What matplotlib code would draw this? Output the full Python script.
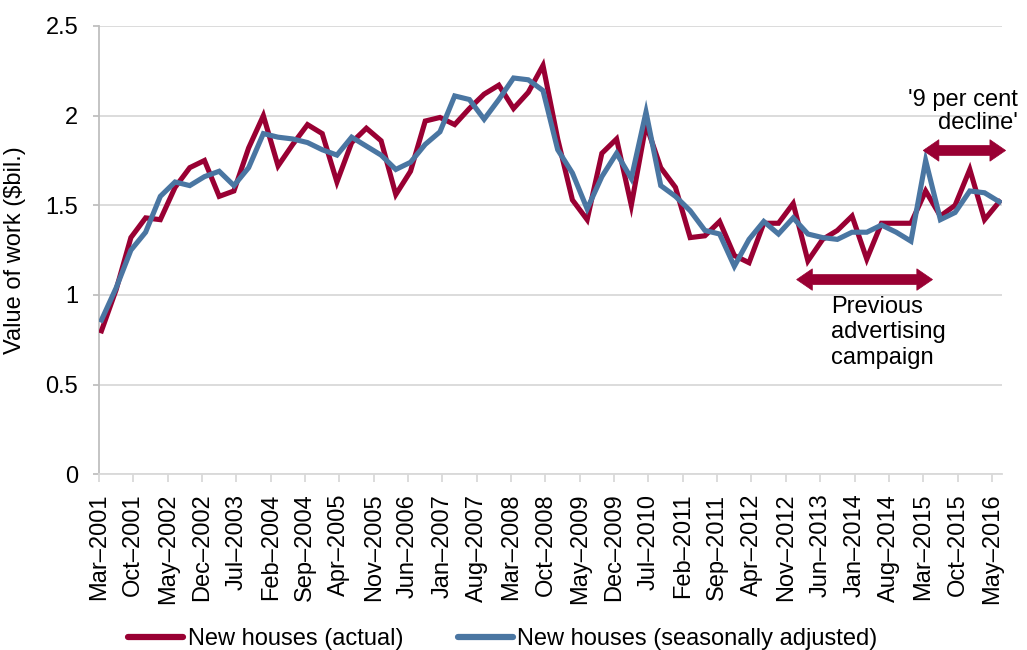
import matplotlib
matplotlib.use("Agg")
import matplotlib.pyplot as plt
from matplotlib.patches import Polygon
import numpy as np

plt.rcParams['font.family'] = ['Liberation Sans', 'DejaVu Sans']

# ---- data ----
tick_labels = ["Mar–2001", "Oct–2001", "May–2002", "Dec–2002", "Jul–2003", "Feb–2004",
               "Sep–2004", "Apr–2005", "Nov–2005", "Jun–2006", "Jan–2007", "Aug–2007",
               "Mar–2008", "Oct–2008", "May–2009", "Dec–2009", "Jul–2010", "Feb–2011",
               "Sep–2011", "Apr–2012", "Nov–2012", "Jun–2013", "Jan–2014", "Aug–2014",
               "Mar–2015", "Oct–2015", "May–2016"]

actual = [0.80, 1.03, 1.32, 1.43, 1.42, 1.60, 1.71, 1.75, 1.55, 1.58,
          1.82, 2.00, 1.72, 1.84, 1.95, 1.90, 1.63, 1.85, 1.93, 1.86,
          1.56, 1.69, 1.97, 1.99, 1.95, 2.04, 2.12, 2.17, 2.04, 2.13,
          2.28, 1.87, 1.53, 1.42, 1.79, 1.87, 1.50, 1.95, 1.71, 1.60,
          1.32, 1.33, 1.41, 1.22, 1.18, 1.40, 1.40, 1.51, 1.19, 1.31,
          1.36, 1.44, 1.20, 1.40, 1.40, 1.40, 1.58, 1.44, 1.50, 1.70,
          1.42, 1.52]

seasonal = [0.86, 1.04, 1.25, 1.35, 1.55, 1.63, 1.61, 1.66, 1.69, 1.61,
            1.71, 1.90, 1.88, 1.87, 1.85, 1.81, 1.78, 1.88, 1.83, 1.78,
            1.70, 1.74, 1.84, 1.91, 2.11, 2.09, 1.98, 2.09, 2.21, 2.20,
            2.14, 1.81, 1.68, 1.48, 1.66, 1.79, 1.65, 2.02, 1.61, 1.55,
            1.47, 1.36, 1.34, 1.16, 1.31, 1.41, 1.34, 1.43, 1.34, 1.32,
            1.31, 1.35, 1.35, 1.39, 1.35, 1.30, 1.75, 1.42, 1.46, 1.58,
            1.57, 1.52]

series_names = ["New houses (actual)", "New houses (seasonally adjusted)"]

RED = '#990033'
BLUE = '#4A76A2'

# months since Mar-2001 (quarterly observations, mid-month)
x = np.arange(len(actual)) * 3 + 0.5
tick_pos = np.arange(len(tick_labels)) * 7

fig = plt.figure(figsize=(10.27, 6.5), dpi=100)
ax = fig.add_axes([99 / 1027, (650 - 474.3) / 650, 902.7 / 1027, 448.3 / 650])

ax.plot(x, actual, color=RED, lw=3.7, solid_joinstyle='miter', label=series_names[0], zorder=3)
ax.plot(x, seasonal, color=BLUE, lw=3.7, solid_joinstyle='miter', label=series_names[1], zorder=4)

ax.set_xlim(0, 184)
ax.set_ylim(0, 2.5)
ax.set_yticks([0, 0.5, 1, 1.5, 2, 2.5])
ax.set_yticklabels(["0", "0.5", "1", "1.5", "2", "2.5"])
ax.set_xticks(tick_pos)
ax.set_xticklabels(tick_labels, rotation=90)

ax.grid(axis='y', color='#D9D9D9', lw=1.3)
ax.set_axisbelow(True)
for s in ['top', 'right']:
    ax.spines[s].set_visible(False)
ax.spines['left'].set_color('#BFBFBF')
ax.spines['left'].set_linewidth(1.3)
ax.spines['bottom'].set_color('#D9D9D9')
ax.spines['bottom'].set_linewidth(1.3)
ax.tick_params(axis='y', length=4, width=1.3, color='#BFBFBF', pad=11, labelsize=17)
ax.tick_params(axis='x', length=6, width=1.3, color='#D9D9D9', pad=8, labelsize=17)

ax.set_ylabel("Value of work ($bil.)", fontsize=17)
ax.yaxis.set_label_coords(-0.0813, 0.5)

# ---- annotations: double-headed block arrows ----
def double_arrow(x0, x1, y, body=0.056, head=0.12, hl=3.2):
    b, h = body / 2, head / 2
    verts = [(x0, y), (x0 + hl, y + h), (x0 + hl, y + b), (x1 - hl, y + b),
             (x1 - hl, y + h), (x1, y), (x1 - hl, y - h), (x1 - hl, y - b),
             (x0 + hl, y - b), (x0 + hl, y - h)]
    ax.add_patch(Polygon(verts, closed=True, facecolor=RED, edgecolor=RED, lw=0.5,
                         clip_on=False, zorder=5))

double_arrow(142.2, 169.9, 1.086)
double_arrow(168.0, 184.8, 1.806)

ax.text(149.3, 0.792, "Previous\nadvertising\ncampaign", fontsize=17, ha='left',
        va='center', linespacing=1.2, zorder=6)
ax.text(187.3, 2.023, "'9 per cent\ndecline'", fontsize=17, ha='right',
        va='center', multialignment='right', linespacing=1.1, zorder=6, clip_on=False)

leg = fig.legend(loc='center left', bbox_to_anchor=(128 / 1027, 11 / 650), ncol=2,
                 frameon=False, fontsize=17, handlelength=2.33, handletextpad=0.2,
                 columnspacing=2.3, borderpad=0, borderaxespad=0)
for h in leg.get_lines():
    h.set_linewidth(4.5)
    h.set_solid_capstyle('round')

fig.savefig("out.png", dpi=100)
